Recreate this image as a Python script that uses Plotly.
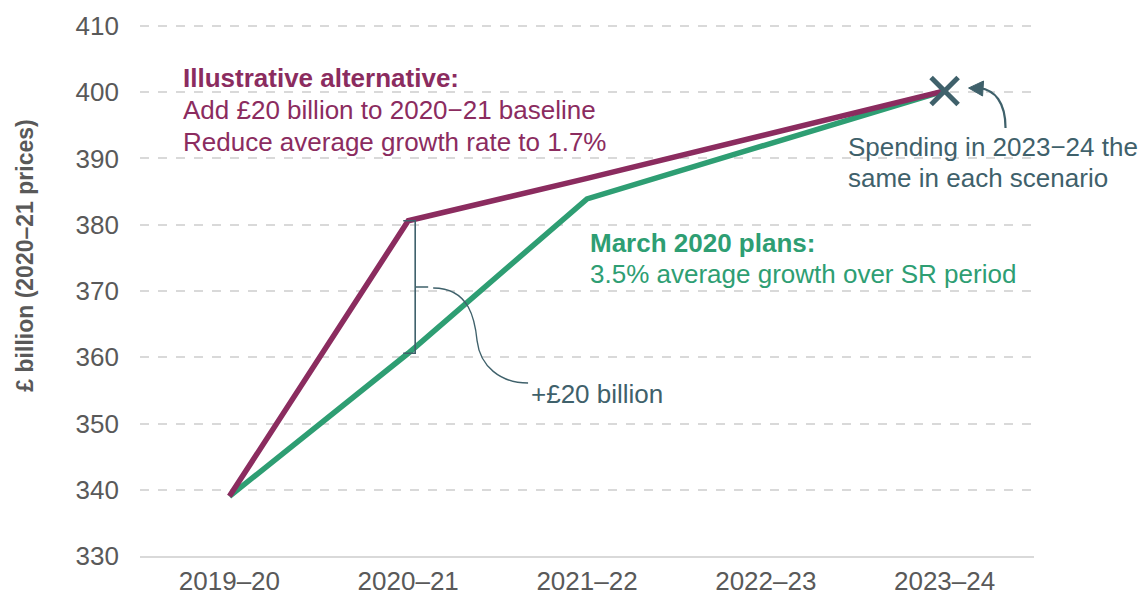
import plotly.graph_objects as go

# ---- data ----
years = ["2019–20", "2020–21", "2021–22", "2022–23", "2023–24"]
march_2020_plans = [339.0, 360.6, 383.9, 392.0, 400.2]
illustrative_alt = [339.0, 380.6, 387.0, 393.5, 400.2]

PURPLE = "#8B2C5F"
GREEN = "#2E9E73"
SLATE = "#3F616B"
GREY_TXT = "#595959"
FONT = "Liberation Sans, Arial, sans-serif"

# plot area geometry (pixels)
L, R, T, B = 139.5, 1034.5, 23.0, 556.0
YMIN, YMAX = 330, 410.45

# pixel -> data helpers for decorative annotation geometry
X0, DX = 229.0, 179.0
Y0, DY = B, (B - T) / (YMAX - YMIN)
def dx(px):
    return (px - X0) / DX
def dy(py):
    return YMIN + (Y0 - py) / DY

xs = list(range(len(years)))

fig = go.Figure()
fig.add_trace(go.Scatter(x=xs, y=march_2020_plans, mode="lines",
                         line=dict(color=GREEN, width=5.5), hoverinfo="skip"))
fig.add_trace(go.Scatter(x=xs, y=illustrative_alt, mode="lines",
                         line=dict(color=PURPLE, width=5.5), hoverinfo="skip"))
fig.add_trace(go.Scatter(x=[xs[-1]], y=[illustrative_alt[-1]], mode="markers",
                         marker=dict(symbol="x-thin", size=27,
                                     line=dict(color=SLATE, width=5)),
                         hoverinfo="skip"))

# bracket (+£20 billion)
top = illustrative_alt[1]
bot = march_2020_plans[1]
mid = (top + bot) / 2
bx = dx(415)
bl = dx(403)
br = dx(428)
fig.add_shape(type="path",
              path=(f"M {bl},{top} L {bx},{top} L {bx},{bot} L {bl},{bot} "
                    f"M {bx},{mid} L {br},{mid}"),
              xref="x", yref="y", line=dict(color=SLATE, width=1.6))
# curved leader to "+£20 billion"
pts = [(433, 288), (470, 288), (475, 321), (477, 341), (480, 366), (500, 383), (528, 383)]
p = [(dx(a), dy(b)) for a, b in pts]
fig.add_shape(type="path",
              path=(f"M {p[0][0]},{p[0][1]} C {p[1][0]},{p[1][1]} {p[2][0]},{p[2][1]} {p[3][0]},{p[3][1]} "
                    f"C {p[4][0]},{p[4][1]} {p[5][0]},{p[5][1]} {p[6][0]},{p[6][1]}"),
              xref="x", yref="y", line=dict(color=SLATE, width=1.4))

# curved arrow pointing at the X
a = [(1006, 128), (1006, 102), (995, 90), (980, 88)]
q = [(dx(u), dy(v)) for u, v in a]
fig.add_shape(type="path",
              path=f"M {q[0][0]},{q[0][1]} C {q[1][0]},{q[1][1]} {q[2][0]},{q[2][1]} {q[3][0]},{q[3][1]}",
              xref="x", yref="y", line=dict(color=SLATE, width=2.2))
h = [(969, 88), (984, 81), (983, 96)]
hq = [(dx(u), dy(v)) for u, v in h]
fig.add_shape(type="path",
              path=f"M {hq[0][0]},{hq[0][1]} L {hq[1][0]},{hq[1][1]} L {hq[2][0]},{hq[2][1]} Z",
              xref="x", yref="y", fillcolor=SLATE, line=dict(color=SLATE, width=1))

def txt(x, y, s, color, bold=False, size=26):
    fig.add_annotation(x=dx(x), y=dy(y), xref="x", yref="y", text=f"<b>{s}</b>" if bold else s,
                       showarrow=False, xanchor="left", yanchor="middle",
                       font=dict(family=FONT, size=size, color=color))

txt(181, 78, "Illustrative alternative:", PURPLE, bold=True)
txt(181, 110, "Add £20 billion to 2020−21 baseline", PURPLE)
txt(181, 142, "Reduce average growth rate to 1.7%", PURPLE)
txt(588, 243, "March 2020 plans:", GREEN, bold=True)
txt(588, 274, "3.5% average growth over SR period", GREEN)
txt(846, 147, "Spending in 2023−24 the", SLATE)
txt(846, 178, "same in each scenario", SLATE)
txt(529, 394, "+£20 billion", SLATE)

# y-axis title (paper coords are relative to the plot area)
fig.add_annotation(x=(24 - L) / (R - L), y=(B - 256) / (B - T), xref="paper", yref="paper",
                   text="<b>£ billion (2020–21 prices)</b>", textangle=-90,
                   showarrow=False, xanchor="center", yanchor="middle",
                   font=dict(family=FONT, size=23, color=GREY_TXT))

fig.update_layout(
    width=1145, height=598,
    margin=dict(l=L, r=1145 - R, t=T, b=598 - B, autoexpand=False),
    plot_bgcolor="white", paper_bgcolor="white",
    showlegend=False,
    font=dict(family=FONT, size=26, color=GREY_TXT),
)
fig.update_xaxes(range=[-0.5, 4.5], tickvals=xs, ticktext=years,
                 showgrid=False, zeroline=False, showline=True,
                 linecolor="#D9D9D9", linewidth=2, ticks="",
                 ticklabelstandoff=1, tickfont=dict(size=26, color=GREY_TXT))
fig.update_yaxes(range=[YMIN, YMAX], tickvals=[330, 340, 350, 360, 370, 380, 390, 400, 410],
                 showgrid=True, gridcolor="#D9D9D9", griddash="dash", gridwidth=1.5,
                 zeroline=False, showline=False, ticks="",
                 ticklabelstandoff=20, tickfont=dict(size=26, color=GREY_TXT))

fig.write_html("out.html")
